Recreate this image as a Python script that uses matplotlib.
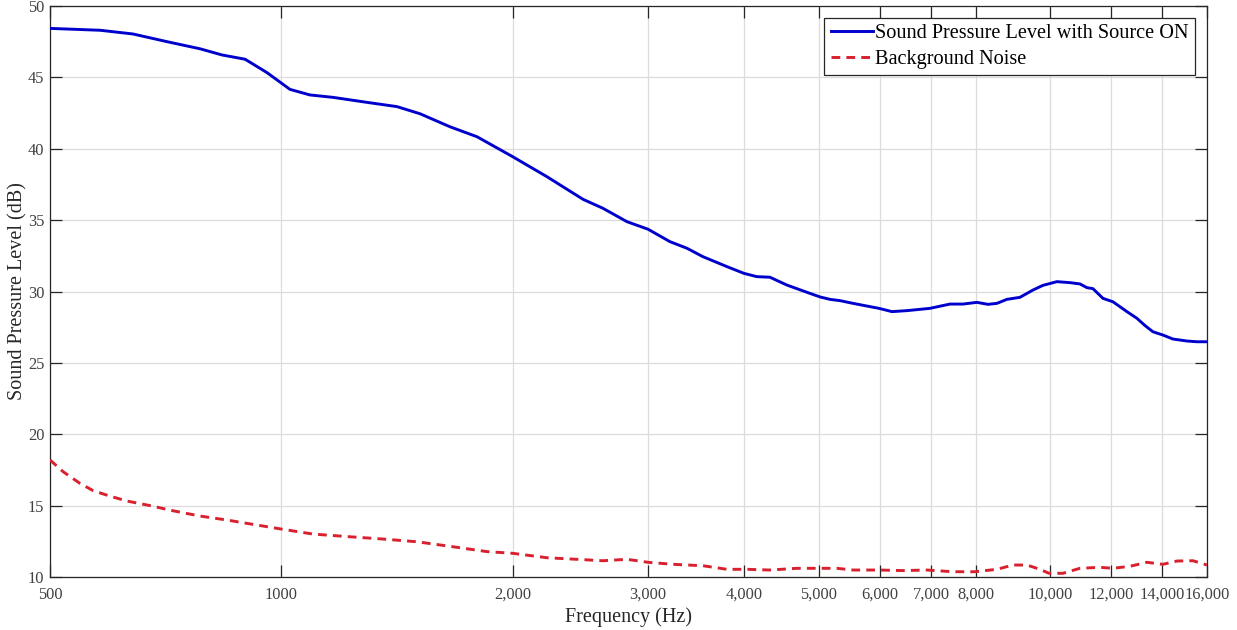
import matplotlib
matplotlib.use("Agg")
import matplotlib.pyplot as plt
from matplotlib.ticker import FixedLocator, FixedFormatter, NullLocator

# Measured spectrum with the source running
freq_on = [500, 581, 641, 710, 784, 837, 897, 958, 1026, 1089, 1167, 1292, 1414,
           1515, 1657, 1797, 2000, 2216, 2468, 2620, 2816, 3000, 3203, 3370, 3535,
           3800, 3998, 4155, 4321, 4547, 4871, 5020, 5172, 5330, 5542, 5831, 5990,
           6228, 6515, 6978, 7410, 7703, 8033, 8303, 8530, 8788, 9136, 9500, 9789,
           10209, 10614, 10937, 11168, 11371, 11717, 12073, 12590, 12974, 13300,
           13610, 14025, 14452, 15072, 15530, 16000]
spl_on = [48.43, 48.30, 48.04, 47.50, 47.00, 46.57, 46.27, 45.33, 44.16, 43.77,
          43.60, 43.25, 42.95, 42.45, 41.54, 40.84, 39.44, 38.04, 36.46, 35.83,
          34.89, 34.36, 33.49, 33.03, 32.44, 31.74, 31.27, 31.04, 31.00, 30.45,
          29.87, 29.62, 29.45, 29.36, 29.17, 28.94, 28.82, 28.59, 28.66, 28.82,
          29.12, 29.12, 29.24, 29.10, 29.17, 29.45, 29.59, 30.10, 30.43, 30.69,
          30.62, 30.53, 30.27, 30.20, 29.52, 29.28, 28.59, 28.12, 27.60, 27.18,
          26.95, 26.67, 26.53, 26.48, 26.48]

# Background noise spectrum
freq_bg = [500, 520, 547, 569, 598, 630, 675, 723, 784, 850, 918, 1005, 1099,
           1228, 1356, 1501, 1672, 1851, 2000, 2216, 2424, 2620, 2816, 3000, 3232,
           3535, 3800, 4034, 4321, 4686, 5020, 5282, 5542, 5990, 6436, 6917, 7477,
           7986, 8530, 8948, 9332, 9703, 9967, 10393, 10937, 11613, 12073, 12703,
           13366, 14025, 14626, 15344, 16000]
spl_bg = [18.20, 17.38, 16.56, 16.05, 15.67, 15.32, 15.00, 14.64, 14.27, 13.99,
          13.69, 13.34, 13.01, 12.82, 12.66, 12.47, 12.12, 11.78, 11.66, 11.35,
          11.24, 11.14, 11.24, 11.03, 10.89, 10.79, 10.54, 10.54, 10.49, 10.61,
          10.61, 10.61, 10.49, 10.49, 10.45, 10.49, 10.37, 10.37, 10.54, 10.84,
          10.84, 10.54, 10.26, 10.26, 10.61, 10.68, 10.61, 10.75, 11.03, 10.89,
          11.12, 11.14, 10.84]

x_ticks = [500, 1000, 2000, 3000, 4000, 5000, 6000, 7000, 8000, 10000, 12000, 14000, 16000]
x_tick_labels = ["500", "1000", "2,000", "3,000", "4,000", "5,000", "6,000",
                 "7,000", "8,000", "10,000", "12,000", "14,000", "16,000"]
y_ticks = [10, 15, 20, 25, 30, 35, 40, 45, 50]

plt.rcParams["font.family"] = ["Liberation Serif", "DejaVu Serif"]

fig = plt.figure(figsize=(12.37, 6.30), dpi=100)
ax = fig.add_axes([0.0404, 0.0841, 0.9353, 0.9064])

ax.plot(freq_on, spl_on, color="#0000CC", lw=2.1,
        label="Sound Pressure Level with Source ON", zorder=3)
ax.plot(freq_bg, spl_bg, color="#D8202E", lw=2.1, ls=(0, (3.0, 2.1)),
        label="Background Noise", zorder=3)

ax.set_xscale("log")
ax.set_xlim(500, 16000)
ax.set_ylim(10, 50)
ax.xaxis.set_major_locator(FixedLocator(x_ticks))
ax.xaxis.set_major_formatter(FixedFormatter(x_tick_labels))
ax.xaxis.set_minor_locator(NullLocator())
ax.set_yticks(y_ticks)
ax.yaxis.set_minor_locator(NullLocator())

ax.grid(True, which="major", color="#DCDCDC", lw=0.9)
ax.set_axisbelow(True)

ax.tick_params(direction="in", length=8.5, width=0.9, top=True, right=True,
               colors="#262626", labelcolor="#404040", labelsize=11.8)
ax.tick_params(axis="x", pad=7)
ax.tick_params(axis="y", pad=4)
for s in ax.spines.values():
    s.set_color("#262626")
    s.set_linewidth(0.9)

ax.set_xlabel("Frequency (Hz)", fontsize=14.5, color="#262626", labelpad=3)
ax.set_ylabel("Sound Pressure Level (dB)", fontsize=14.5, color="#262626", labelpad=0)

leg = ax.legend(loc="upper right", fontsize=14.6, frameon=True, fancybox=False,
                handlelength=2.1, handletextpad=0.1, borderpad=0.3,
                labelspacing=0.3, borderaxespad=0.6, framealpha=1)
leg.get_frame().set_edgecolor("#262626")
leg.get_frame().set_linewidth(0.9)

fig.savefig("out.png", dpi=100)
